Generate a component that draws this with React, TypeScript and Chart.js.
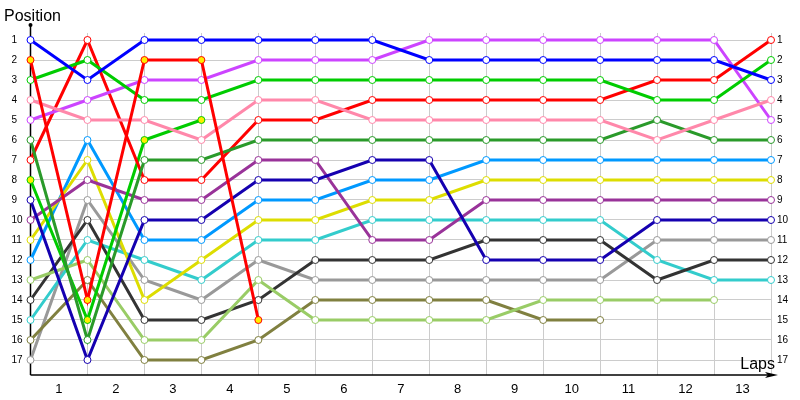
import React, { useEffect, useRef } from "react";
import { Chart, registerables } from "chart.js";

Chart.register(...registerables);

// x positions of the timing points (start + end of each lap)
const pointIndex = [0, 1, 2, 3, 4, 5, 6, 7, 8, 9, 10, 11, 12, 13];
const lapLabels = ["1", "2", "3", "4", "5", "6", "7", "8", "9", "10", "11", "12", "13"];
const positionTicks = [1, 2, 3, 4, 5, 6, 7, 8, 9, 10, 11, 12, 13, 14, 15, 16, 17];

// positions per driver
const blueDriver = [1, 3, 1, 1, 1, 1, 1, 2, 2, 2, 2, 2, 2, 3];
const magentaDriver = [5, 4, 3, 3, 2, 2, 2, 1, 1, 1, 1, 1, 1, 5];
const greenDriver = [3, 2, 4, 4, 3, 3, 3, 3, 3, 3, 3, 4, 4, 2];
const redDriver = [7, 1, 8, 8, 5, 5, 4, 4, 4, 4, 4, 3, 3, 1];
const pinkDriver = [4, 5, 5, 6, 4, 4, 5, 5, 5, 5, 5, 6, 5, 4];
const darkGreenDriver = [6, 16, 7, 7, 6, 6, 6, 6, 6, 6, 6, 5, 6, 6];
const redRetiredDriver = [2, 14, 2, 2, 15, null, null, null, null, null, null, null, null, null];
const greenRetiredDriver = [8, 15, 6, 5, null, null, null, null, null, null, null, null, null, null];
const navyDriver = [9, 17, 10, 10, 8, 8, 7, 7, 12, 12, 12, 10, 10, 10];
const purpleDriver = [10, 8, 9, 9, 7, 7, 11, 11, 9, 9, 9, 9, 9, 9];
const yellowDriver = [11, 7, 14, 12, 10, 10, 9, 9, 8, 8, 8, 8, 8, 8];
const lightBlueDriver = [12, 6, 11, 11, 9, 9, 8, 8, 7, 7, 7, 7, 7, 7];
const lightGreenDriver = [13, 12, 16, 16, 13, 15, 15, 15, 15, 14, 14, 14, 14, null];
const blackDriver = [14, 10, 15, 15, 14, 12, 12, 12, 11, 11, 11, 13, 12, 12];
const cyanDriver = [15, 11, 12, 13, 11, 11, 10, 10, 10, 10, 10, 12, 13, 13];
const oliveDriver = [16, 13, 17, 17, 16, 14, 14, 14, 14, 15, 15, null, null, null];
const grayDriver = [17, 9, 13, 14, 12, 13, 13, 13, 13, 13, 13, 11, 11, 11];

const seriesList = [
  { name: "Blue", data: blueDriver, color: "#0000ff", fill: "#ffffff" },
  { name: "Red (retired)", data: redRetiredDriver, color: "#ff0000", fill: "#ffee00" },
  { name: "Green", data: greenDriver, color: "#00cc00", fill: "#ffffff" },
  { name: "Pink", data: pinkDriver, color: "#ff88aa", fill: "#ffffff" },
  { name: "Magenta", data: magentaDriver, color: "#cc44ff", fill: "#ffffff" },
  { name: "Dark green", data: darkGreenDriver, color: "#2a9a2a", fill: "#ffffff" },
  { name: "Red", data: redDriver, color: "#ff0000", fill: "#ffffff" },
  { name: "Green (retired)", data: greenRetiredDriver, color: "#00cc00", fill: "#ffee00" },
  { name: "Navy", data: navyDriver, color: "#1500b0", fill: "#ffffff" },
  { name: "Purple", data: purpleDriver, color: "#993399", fill: "#ffffff" },
  { name: "Yellow", data: yellowDriver, color: "#dddd00", fill: "#ffffff" },
  { name: "Light blue", data: lightBlueDriver, color: "#0099ff", fill: "#ffffff" },
  { name: "Light green", data: lightGreenDriver, color: "#99cc66", fill: "#ffffff" },
  { name: "Black", data: blackDriver, color: "#333333", fill: "#ffffff" },
  { name: "Cyan", data: cyanDriver, color: "#33cccc", fill: "#ffffff" },
  { name: "Olive", data: oliveDriver, color: "#808040", fill: "#ffffff" },
  { name: "Gray", data: grayDriver, color: "#999999", fill: "#ffffff" },
];

const FONT = "'Liberation Sans', Arial, sans-serif";

const decorPlugin = {
  id: "decor",
  beforeDatasetsDraw(chart: any) {
    const { ctx, chartArea } = chart;
    const x0 = chartArea.left;
    const y0 = chartArea.bottom;
    ctx.save();
    ctx.strokeStyle = "#000";
    ctx.fillStyle = "#000";
    ctx.lineWidth = 1.5;
    ctx.beginPath();
    ctx.moveTo(x0, y0);
    ctx.lineTo(x0, 25);
    ctx.stroke();
    ctx.beginPath();
    ctx.arc(x0, 25, 2, 0, Math.PI * 2);
    ctx.fill();
    ctx.beginPath();
    ctx.moveTo(x0, y0);
    ctx.lineTo(774, y0);
    ctx.stroke();
    ctx.beginPath();
    ctx.moveTo(778, y0);
    ctx.lineTo(765, y0 - 3);
    ctx.lineTo(768, y0);
    ctx.lineTo(765, y0 + 3);
    ctx.closePath();
    ctx.fill();
    ctx.restore();
  },
  afterDraw(chart: any) {
    const { ctx } = chart;
    ctx.save();
    ctx.fillStyle = "#000";
    ctx.font = `16px ${FONT}`;
    ctx.textBaseline = "alphabetic";
    ctx.textAlign = "left";
    ctx.fillText("Position", 4, 21);
    ctx.textAlign = "right";
    ctx.fillText("Laps", 775, 369);
    ctx.restore();
  },
};

export default function App() {
  const canvasRef = useRef<HTMLCanvasElement>(null);

  useEffect(() => {
    const canvas = canvasRef.current;
    if (!canvas) return;
    document.body.style.margin = "0";
    const chart = new Chart(canvas, {
      type: "line",
      data: {
        labels: pointIndex,
        datasets: seriesList.map((s) => ({
          label: s.name,
          data: s.data,
          borderColor: s.color,
          backgroundColor: s.color,
          borderWidth: 3,
          pointRadius: 3.5,
          pointHoverRadius: 3.5,
          pointBorderWidth: 1,
          pointBorderColor: s.color,
          pointBackgroundColor: s.fill,
          tension: 0,
          spanGaps: false,
          clip: false as any,
        })),
      },
      options: {
        responsive: false,
        animation: false,
        devicePixelRatio: 1,
        layout: { padding: { left: 11.5, top: 33, right: 0, bottom: 0 } },
        plugins: {
          legend: { display: false },
          tooltip: { enabled: false },
          title: { display: false },
        },
        events: [],
        scales: {
          x: {
            type: "linear",
            min: 0,
            max: 13,
            position: "bottom",
            afterBuildTicks: (scale: any) => {
              scale.ticks = lapLabels.map((_, i) => ({ value: i + 0.5 }));
            },
            afterFit: (scale: any) => {
              scale.height = 25;
            },
            ticks: {
              autoSkip: false,
              maxRotation: 0,
              padding: 7,
              color: "#000",
              font: { family: FONT, size: 13 },
              callback: (value: any) => lapLabels[Math.round(Number(value) - 0.5)] ?? "",
            },
            grid: { offset: true, color: "#cccccc", lineWidth: 1, drawTicks: false },
            border: { display: false },
          },
          y: {
            type: "linear",
            reverse: true,
            min: 0.65,
            max: 17.75,
            position: "left",
            afterBuildTicks: (scale: any) => {
              scale.ticks = positionTicks.map((v) => ({ value: v }));
            },
            afterFit: (scale: any) => {
              scale.width = 19;
            },
            ticks: {
              crossAlign: "far",
              padding: 4,
              color: "#000",
              font: { family: FONT, size: 10 },
              callback: (value: any) => String(value),
            },
            grid: { color: "#cccccc", lineWidth: 1, drawTicks: false },
            border: { display: false },
          },
          y2: {
            type: "linear",
            reverse: true,
            min: 0.65,
            max: 17.75,
            position: "right",
            afterBuildTicks: (scale: any) => {
              scale.ticks = positionTicks.map((v) => ({ value: v }));
            },
            afterFit: (scale: any) => {
              scale.width = 29;
            },
            ticks: {
              crossAlign: "near",
              padding: 6,
              color: "#000",
              font: { family: FONT, size: 10 },
              callback: (value: any) => String(value),
            },
            grid: { display: false, drawTicks: false },
            border: { display: false },
          },
        },
      },
      plugins: [decorPlugin],
    } as any);
    return () => chart.destroy();
  }, []);

  return (
    <div style={{ position: "fixed", left: 0, top: 0, width: 800, height: 400, background: "#fff" }}>
      <canvas ref={canvasRef} width={800} height={400} style={{ width: 800, height: 400 }} />
    </div>
  );
}
